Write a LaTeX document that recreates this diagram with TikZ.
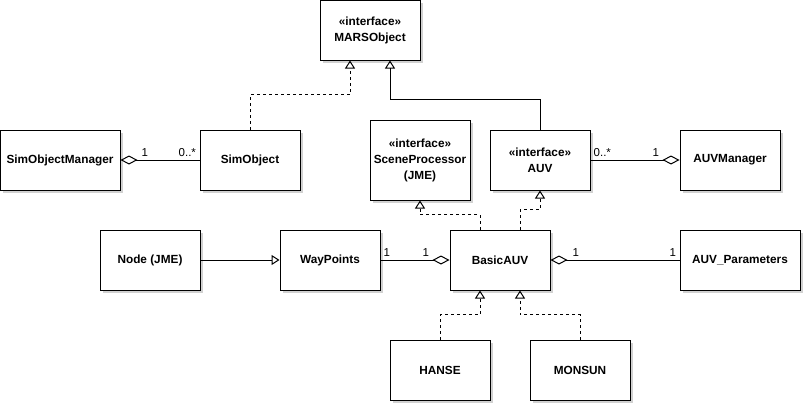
\documentclass[tikz,border=0pt]{standalone}
\usepackage{fontspec}
\setmainfont{Liberation Sans}
\usetikzlibrary{arrows.meta,shadows,calc}
\begin{document}
\begin{tikzpicture}[x=1pt,y=-1pt,
  cls/.style={draw=black, line width=1pt, fill=white, inner sep=0pt, align=center,
    font=\bfseries\fontsize{11.8}{16}\selectfont,
    minimum width=100pt, minimum height=60pt,
    drop shadow={shadow xshift=3pt, shadow yshift=-3pt, fill=black!18, opacity=1}},
  conn/.style={line width=1pt},
  realize/.style={line width=1pt, dash pattern=on 3pt off 3pt, -{Triangle[open, width=10pt, length=8pt]}},
  general/.style={line width=1pt, -{Triangle[open, width=10pt, length=8pt]}},
  aggstart/.style={line width=1pt, {Diamond[open, width=9pt, length=17pt]}-},
  aggend/.style={line width=1pt, -{Diamond[open, width=9pt, length=17pt]}},
  mult/.style={anchor=base west, inner sep=0pt, font=\fontsize{11.5}{13}\selectfont}
]
\useasboundingbox (0,0) rectangle (805,405);

\node[cls] (mars) at (370,30) {«interface»\\MARSObject};
\node[cls, minimum width=120pt] (simmgr) at (60,160) {SimObjectManager};
\node[cls] (simobj) at (250,160) {SimObject};
\node[cls, minimum height=80pt] (scene) at (420,160) {«interface»\\SceneProcessor\\(JME)};
\node[cls] (auv) at (540,160) {«interface»\\AUV};
\node[cls] (auvmgr) at (730,160) {AUVManager};
\node[cls] (nodejme) at (150,260) {Node (JME)};
\node[cls] (way) at (330,260) {WayPoints};
\node[cls] (basic) at (500,260) {BasicAUV};
\node[cls, minimum width=120pt] (param) at (740,260) {AUV\_Parameters};
\node[cls] (hanse) at (440,370) {HANSE};
\node[cls] (monsun) at (580,370) {MONSUN};

% realizations / generalizations
\draw[realize] (simobj.north) -- ++(0,-35) -| ([xshift=-20pt]mars.south);
\draw[general] (auv.north) -- ++(0,-30) -| ([xshift=20pt]mars.south);
\draw[realize] ([xshift=-20pt]basic.north) -- ++(0,-15) -| (scene.south);
\draw[realize] ([xshift=20pt]basic.north) -- ++(0,-20) -| (auv.south);
\draw[realize] (hanse.north) -- ++(0,-25) -| ([xshift=-20pt]basic.south);
\draw[realize] (monsun.north) -- ++(0,-25) -| ([xshift=20pt]basic.south);
\draw[general] (nodejme.east) -- (way.west);

% aggregations
\draw[aggstart] (simmgr.east) -- (simobj.west);
\draw[aggend] (auv.east) -- (auvmgr.west);
\draw[aggend] (way.east) -- (basic.west);
\draw[aggstart] (basic.east) -- (param.west);

% multiplicities
\node[mult] (m1) at ([shift={(21,-4)}]simmgr.east) {1};
\node[mult] (m2) at ([shift={(-21,-4)}]simobj.west) {0..*};
\node[mult] (m3) at ([shift={(3,-4)}]auv.east) {0..*};
\node[mult] (m4) at ([shift={(-27,-4)}]auvmgr.west) {1};
\node[mult] (m5) at ([shift={(3,-4)}]way.east) {1};
\node[mult] (m6) at ([shift={(-27,-4)}]basic.west) {1};
\node[mult] (m7) at ([shift={(22,-4)}]basic.east) {1};
\node[mult] (m8) at ([shift={(-10,-4)}]param.west) {1};
\end{tikzpicture}
\end{document}
